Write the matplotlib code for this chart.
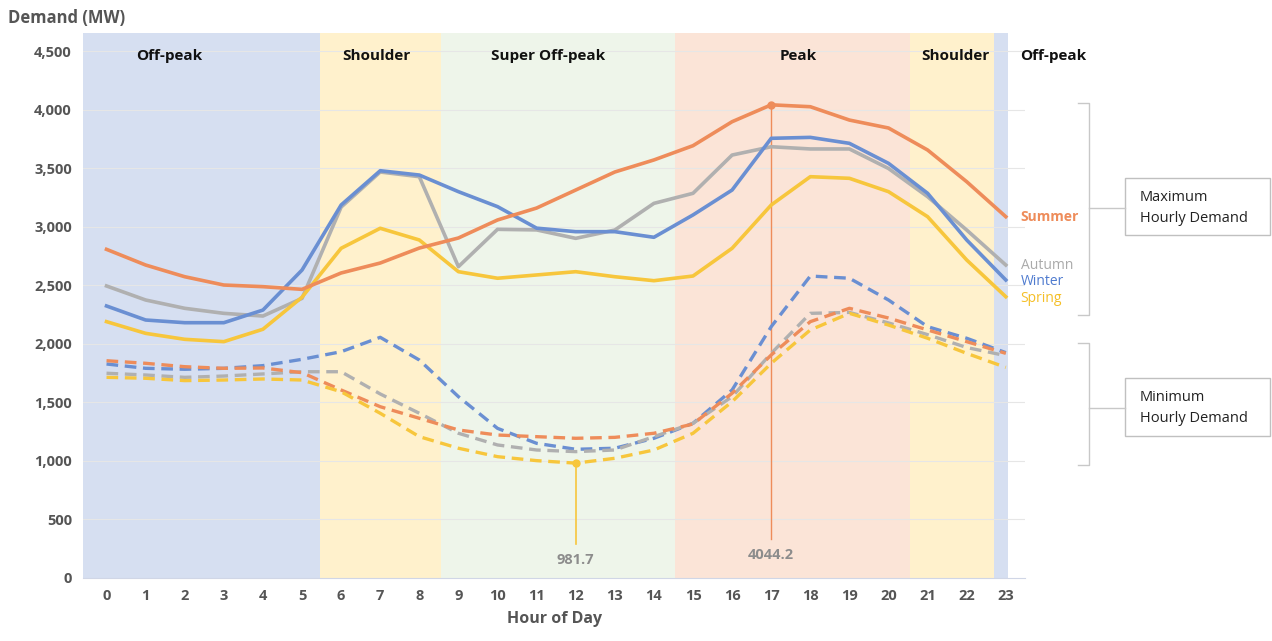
import matplotlib
matplotlib.use("Agg")
import matplotlib.pyplot as plt
from matplotlib.lines import Line2D
from matplotlib.patches import Rectangle

plt.rcParams['font.family'] = ['Open Sans', 'DejaVu Sans']

hours = list(range(24))

# maximum hourly demand (MW)
summer_max = [2809, 2675, 2575, 2504, 2490, 2467, 2607, 2692, 2820, 2906, 3060, 3162,
              3316, 3470, 3573, 3695, 3900, 4044.2, 4028, 3914, 3846, 3658, 3387, 3088]
winter_max = [2325, 2205, 2182, 2182, 2290, 2632, 3188, 3481, 3444, 3302, 3174, 2990,
              2960, 2960, 2912, 3103, 3316, 3758, 3766, 3715, 3544, 3288, 2889, 2547]
autumn_max = [2496, 2376, 2305, 2262, 2239, 2390, 3170, 3470, 3430, 2661, 2980, 2975,
              2903, 2974, 3202, 3288, 3615, 3686, 3667, 3667, 3500, 3259, 2974, 2675]
spring_max = [2191, 2091, 2040, 2020, 2126, 2400, 2818, 2989, 2889, 2618, 2562, 2590,
              2618, 2575, 2541, 2581, 2818, 3188, 3430, 3416, 3302, 3088, 2718, 2404]

# minimum hourly demand (MW)
summer_min = [1857, 1835, 1806, 1792, 1795, 1755, 1607, 1464, 1365, 1265, 1222, 1208,
              1194, 1202, 1237, 1316, 1579, 1906, 2191, 2305, 2222, 2120, 2020, 1920]
winter_min = [1829, 1792, 1784, 1792, 1815, 1869, 1934, 2057, 1863, 1550, 1279, 1151,
              1100, 1109, 1194, 1322, 1607, 2148, 2581, 2562, 2376, 2148, 2049, 1926]
autumn_min = [1750, 1735, 1715, 1726, 1744, 1763, 1763, 1573, 1408, 1237, 1137, 1094,
              1080, 1094, 1208, 1322, 1550, 1920, 2262, 2270, 2180, 2080, 1970, 1900]
spring_min = [1715, 1707, 1687, 1692, 1701, 1692, 1592, 1408, 1208, 1109, 1037, 1003,
              981.7, 1023, 1094, 1237, 1507, 1835, 2120, 2262, 2162, 2049, 1920, 1800]

# tariff periods: (label, start hour, end hour, colour)
periods = [
    ("Off-peak", -0.6, 5.45, "#d6dff1"),
    ("Shoulder", 5.45, 8.55, "#fff1cc"),
    ("Super Off-peak", 8.55, 14.55, "#eef5ea"),
    ("Peak", 14.55, 20.55, "#fbe4d7"),
    ("Shoulder", 20.55, 22.7, "#fff1cc"),
    ("Off-peak", 22.7, 23.05, "#d6dff1"),
]
period_label_x = [1.6, 6.9, 11.3, 17.7, 21.7, 24.2]

c_summer = "#ee8c5a"
c_winter = "#6a8fd2"
c_autumn = "#b0b0b0"
c_spring = "#f7c63c"

fig = plt.figure(figsize=(12.72, 6.41), dpi=100)
ax = fig.add_axes([0.0653, 0.0983, 0.7408, 0.8502])

for (lab, x0, x1, col), lx in zip(periods, period_label_x):
    ax.axvspan(x0, x1, ymin=0, ymax=1, color=col, lw=0, zorder=0)
    ax.text(lx, 4462, lab, ha='center', va='center', fontsize=11,
            fontweight='bold', color='#111111', clip_on=False)

for v in range(500, 4501, 500):
    ax.axhline(v, color='#e6e6e6', lw=0.8, zorder=0.5)

lw = 2.6
ax.plot(hours, autumn_max, color=c_autumn, lw=lw, zorder=3)
ax.plot(hours, spring_max, color=c_spring, lw=lw, zorder=3)
ax.plot(hours, winter_max, color=c_winter, lw=lw, zorder=3)
ax.plot(hours, summer_max, color=c_summer, lw=lw, zorder=4)

ds = (3.5, 2)
ax.plot(hours, winter_min, color=c_winter, lw=2.4, ls=(0, ds), zorder=3)
ax.plot(hours, autumn_min, color=c_autumn, lw=2.4, ls=(0, ds), zorder=3)
ax.plot(hours, summer_min, color=c_summer, lw=2.4, ls=(0, ds), zorder=3)
ax.plot(hours, spring_min, color=c_spring, lw=2.4, ls=(0, ds), zorder=3)

# annotations of the extremes
ax.plot([12, 12], [spring_min[12], 290], color=c_spring, lw=1.2, zorder=2)
ax.plot(12, spring_min[12], 'o', color=c_spring, ms=5, zorder=5)
ax.text(12, 150, "981.7", ha='center', va='center', fontsize=10.5,
        fontweight='bold', color='#8c8c8c')
ax.plot([17, 17], [summer_max[17], 330], color=c_summer, lw=1.0, zorder=2)
ax.plot(17, summer_max[17], 'o', color=c_summer, ms=5, zorder=5)
ax.text(17, 195, "4044.2", ha='center', va='center', fontsize=10.5,
        fontweight='bold', color='#8c8c8c')

# season labels
ax.text(23.38, 3085, "Summer", color=c_summer, fontsize=10, fontweight='bold',
        va='center', clip_on=False)
ax.text(23.38, 2675, "Autumn", color='#aaaaaa', fontsize=10, va='center', clip_on=False)
ax.text(23.38, 2530, "Winter", color='#4f7bcf', fontsize=10, va='center', clip_on=False)
ax.text(23.38, 2393, "Spring", color='#f5bf26', fontsize=10, va='center', clip_on=False)

ax.set_xlim(-0.6, 23.5)
ax.set_ylim(0, 4658)
ax.set_xticks(hours)
ax.set_yticks(range(0, 4501, 500))
ax.set_yticklabels([f"{v:,}" for v in range(0, 4501, 500)])
ax.tick_params(length=0, labelsize=10.5, labelcolor='#555555', pad=8)
for lab in ax.get_xticklabels() + ax.get_yticklabels():
    lab.set_fontweight('bold')
for s in ['top', 'right', 'left']:
    ax.spines[s].set_visible(False)
ax.spines['bottom'].set_color('#d0d6e6')
ax.set_xlabel("Hour of Day", fontsize=11.5, fontweight='bold', color='#555555', labelpad=6)
fig.text(8 / 1272, 1 - 18 / 641, "Demand (MW)", fontsize=12, fontweight='bold',
         color='#555555', va='center', ha='left')


# brackets and boxes (figure pixel coordinates)
def fx(px):
    return px / 1272


def fy(py):
    return 1 - py / 641


def bracket(y0, y1, ymid, box_top, box_bot, text):
    gc = '#c8c8c8'
    fig.add_artist(Line2D([fx(1078), fx(1089), fx(1089), fx(1078)],
                          [fy(y0), fy(y0), fy(y1), fy(y1)], color=gc, lw=1))
    fig.add_artist(Line2D([fx(1089), fx(1125)], [fy(ymid), fy(ymid)], color=gc, lw=1))
    fig.add_artist(Rectangle((fx(1125), fy(box_bot)), fx(1270) - fx(1125),
                             fy(box_top) - fy(box_bot), fill=False, ec='#c0c0c0', lw=1))
    fig.text(fx(1140), fy(ymid), text, fontsize=10.5, color='#222222', va='center',
             ha='left', linespacing=1.5)


bracket(103, 315, 208, 178, 235, "Maximum\nHourly Demand")
bracket(343, 465, 408, 378, 436, "Minimum\nHourly Demand")

fig.savefig("out.png", dpi=100)
